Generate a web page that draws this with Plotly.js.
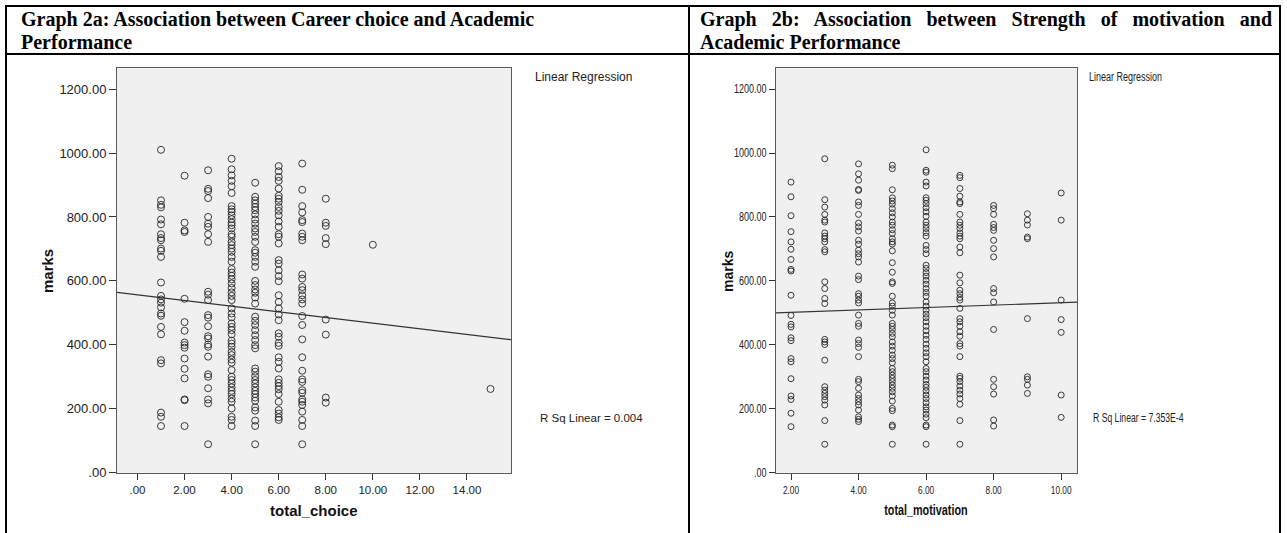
<!DOCTYPE html>
<html>
<head>
<meta charset="utf-8">
<script src="https://cdn.plot.ly/plotly-3.0.1.min.js"></script>
<style>
html,body{margin:0;padding:0;background:#fff;width:1287px;height:533px;overflow:hidden;}
#chart{position:absolute;left:0;top:0;width:1287px;height:533px;}
.rule{position:absolute;background:#000;}
.head{position:absolute;font-family:"Liberation Serif","Times New Roman",serif;font-weight:bold;font-size:20px;line-height:23px;color:#000;}
</style>
</head>
<body>
<div id="chart"></div>
<div class="rule" style="left:5px;top:5px;width:1276px;height:2px"></div>
<div class="rule" style="left:5px;top:5px;width:2px;height:528px"></div>
<div class="rule" style="left:688px;top:5px;width:2px;height:528px"></div>
<div class="rule" style="left:1279px;top:5px;width:2px;height:528px"></div>
<div class="rule" style="left:5px;top:53px;width:1276px;height:2px"></div>
<div class="head" style="left:21px;top:8px;width:660px;">Graph 2a: Association between Career choice and Academic<br>Performance</div>
<div class="head" style="left:700px;top:8px;width:572px;text-align:justify;">Graph 2b: Association between Strength of motivation and Academic Performance</div>
<script>
// ---------- Graph 2a data: marks grouped by total_choice ----------
const choiceValues = [1, 2, 3, 4, 5, 6, 7, 8, 10, 15];
const marksChoice1 = [1010, 852, 838, 830, 792, 777, 746, 734, 727, 701, 694, 675, 595, 553, 542, 532, 517, 498, 491, 456, 433, 352, 342, 188, 175, 146];
const marksChoice2 = [929, 782, 758, 753, 544, 471, 444, 407, 399, 391, 357, 325, 295, 229, 227, 146];
const marksChoice3 = [946, 888, 881, 859, 800, 779, 769, 746, 722, 566, 557, 540, 493, 485, 458, 427, 420, 401, 394, 363, 308, 300, 264, 229, 217, 89];
const marksChoice4 = [982, 949, 930, 913, 896, 875, 834, 824, 816, 805, 793, 782, 774, 764, 746, 738, 722, 712, 701, 691, 675, 660, 637, 626, 616, 605, 592, 578, 564, 553, 540, 514, 498, 486, 467, 456, 446, 433, 413, 404, 394, 378, 368, 354, 344, 321, 300, 290, 279, 267, 256, 246, 232, 222, 201, 175, 165, 146];
const marksChoice5 = [907, 863, 852, 842, 831, 821, 808, 792, 779, 764, 753, 738, 722, 696, 688, 675, 660, 644, 600, 587, 573, 563, 548, 529, 488, 475, 462, 446, 430, 415, 399, 389, 326, 316, 302, 290, 279, 267, 256, 246, 235, 225, 204, 194, 163, 146, 89];
const marksChoice6 = [959, 943, 925, 913, 889, 866, 857, 847, 831, 819, 805, 786, 769, 746, 738, 717, 665, 654, 633, 615, 599, 555, 534, 514, 495, 477, 436, 425, 406, 397, 361, 347, 326, 292, 281, 271, 261, 246, 222, 196, 185, 173, 165];
const marksChoice7 = [967, 885, 834, 814, 790, 784, 748, 738, 727, 620, 607, 581, 571, 555, 542, 529, 490, 462, 417, 361, 319, 292, 284, 258, 250, 229, 222, 212, 191, 165, 146, 89];
const marksChoice8 = [857, 782, 772, 734, 715, 479, 432, 235, 219];
const marksChoice10 = [713];
const marksChoice15 = [262];
const marksByChoice = [marksChoice1, marksChoice2, marksChoice3, marksChoice4, marksChoice5, marksChoice6, marksChoice7, marksChoice8, marksChoice10, marksChoice15];
const fitChoice = [556.3, -8.84];          // intercept, slope of the fitted line
const rSqChoice = '0.004';

// ---------- Graph 2b data: marks grouped by total_motivation ----------
const motivationValues = [2, 3, 4, 5, 6, 7, 8, 9, 10];
const marksMot2 = [909, 863, 804, 754, 722, 699, 667, 636, 631, 555, 492, 464, 456, 422, 413, 357, 347, 294, 240, 229, 186, 144];
const marksMot3 = [982, 854, 831, 808, 790, 784, 750, 740, 732, 722, 698, 691, 597, 576, 545, 529, 417, 409, 401, 352, 269, 258, 248, 238, 227, 212, 163, 89];
const marksMot4 = [966, 935, 915, 886, 883, 847, 836, 808, 781, 769, 756, 727, 715, 696, 685, 675, 659, 615, 604, 560, 552, 540, 531, 493, 467, 458, 415, 404, 392, 363, 292, 285, 264, 243, 232, 222, 212, 196, 175, 167, 160];
const marksMot5 = [962, 951, 885, 860, 850, 840, 826, 813, 800, 784, 774, 760, 748, 732, 722, 715, 694, 657, 627, 597, 592, 552, 531, 521, 508, 493, 467, 458, 448, 436, 425, 409, 396, 383, 368, 357, 344, 326, 316, 305, 295, 285, 274, 264, 253, 240, 224, 201, 194, 149, 144, 89];
const marksMot6 = [1010, 946, 940, 909, 897, 860, 852, 842, 829, 816, 802, 784, 774, 764, 751, 740, 711, 698, 685, 649, 639, 626, 615, 602, 590, 576, 564, 552, 534, 521, 508, 496, 485, 472, 458, 444, 430, 417, 402, 389, 375, 363, 347, 326, 316, 302, 290, 276, 267, 256, 243, 232, 219, 206, 196, 183, 172, 149, 144, 89];
const marksMot7 = [930, 923, 889, 865, 847, 842, 808, 784, 774, 764, 750, 740, 732, 706, 688, 618, 594, 571, 560, 548, 540, 514, 482, 472, 458, 441, 427, 404, 396, 363, 302, 295, 285, 271, 258, 246, 232, 214, 163, 89];
const marksMot8 = [836, 826, 808, 777, 767, 758, 727, 701, 675, 576, 563, 534, 448, 292, 269, 246, 165, 146];
const marksMot9 = [810, 790, 775, 737, 732, 482, 300, 292, 274, 248];
const marksMot10 = [875, 790, 540, 479, 439, 243, 173];
const marksByMotivation = [marksMot2, marksMot3, marksMot4, marksMot5, marksMot6, marksMot7, marksMot8, marksMot9, marksMot10];
const fitMotivation = [494.2, 3.75];       // intercept, slope of the fitted line
const rSqMotivation = '7.353E-4';

// ---------- tick labels ----------
const choiceTicks = [0, 2, 4, 6, 8, 10, 12, 14];
const choiceTickText = ['.00', '2.00', '4.00', '6.00', '8.00', '10.00', '12.00', '14.00'];
const motivationTicks = [2, 4, 6, 8, 10];
const motivationTickText = ['2.00', '4.00', '6.00', '8.00', '10.00'];
const marksTicks = [0, 200, 400, 600, 800, 1000, 1200];
const marksTickText = ['.00', '200.00', '400.00', '600.00', '800.00', '1000.00', '1200.00'];

// ---------- build ----------
function flatten(xs, groups) {
  const x = [], y = [];
  groups.forEach((g, i) => g.forEach(v => { x.push(xs[i]); y.push(v); }));
  return {x, y};
}
const W = 1287, H = 533;
const px = v => v / W;
const py = v => (H - v) / H;

const rangeA = [-0.87, 15.87];
const rangeB = [1.556, 10.477];
const rangeY = [0, 1265];

const fontA = 'Liberation Sans, Arial, sans-serif';
const fontB = 'Liberation Sans Narrow, Arial Narrow, Liberation Sans, Arial, sans-serif';
const squeezeB = 0.72;   // graph 2b text is horizontally condensed

const ptsA = flatten(choiceValues, marksByChoice);
const ptsB = flatten(motivationValues, marksByMotivation);

const traces = [
  {type: 'scatter', mode: 'markers', x: ptsA.x, y: ptsA.y, xaxis: 'x', yaxis: 'y',
   marker: {symbol: 'circle-open', size: 7, color: 'rgba(40,40,40,0.9)', line: {width: 1}}, hoverinfo: 'x+y'},
  {type: 'scatter', mode: 'lines', x: rangeA, y: rangeA.map(v => fitChoice[0] + fitChoice[1] * v),
   xaxis: 'x', yaxis: 'y', line: {color: '#333', width: 1.2}, hoverinfo: 'skip'},
  {type: 'scatter', mode: 'markers', x: ptsB.x, y: ptsB.y, xaxis: 'x2', yaxis: 'y2',
   marker: {symbol: 'circle-open', size: 6, color: 'rgba(40,40,40,0.9)', line: {width: 1}}, hoverinfo: 'x+y'},
  {type: 'scatter', mode: 'lines', x: rangeB, y: rangeB.map(v => fitMotivation[0] + fitMotivation[1] * v),
   xaxis: 'x2', yaxis: 'y2', line: {color: '#333', width: 1.2}, hoverinfo: 'skip'}
];

const axisCommon = {
  showgrid: false, zeroline: false, showline: true, mirror: true,
  linecolor: '#5a5a5a', linewidth: 1, ticks: 'outside', tickcolor: '#333',
  tickwidth: 1, fixedrange: true
};

const layout = {
  width: W, height: H, margin: {l: 0, r: 0, t: 0, b: 0},
  paper_bgcolor: '#ffffff', plot_bgcolor: '#f0f0f0', showlegend: false,
  xaxis: Object.assign({}, axisCommon, {domain: [px(117), px(511)], range: rangeA, anchor: 'y',
    tickmode: 'array', tickvals: choiceTicks, ticktext: choiceTickText, ticklen: 6,
    tickfont: {family: fontA, size: 11.5, color: '#222'}}),
  yaxis: Object.assign({}, axisCommon, {domain: [py(472.7), py(68.3)], range: rangeY, anchor: 'x',
    tickmode: 'array', tickvals: marksTicks, ticktext: marksTickText, ticklen: 7,
    tickfont: {family: fontA, size: 13, color: '#222'}}),
  xaxis2: Object.assign({}, axisCommon, {domain: [px(776), px(1077.3)], range: rangeB, anchor: 'y2',
    tickmode: 'array', tickvals: motivationTicks, ticktext: motivationTickText, ticklen: 6,
    tickfont: {family: fontB, size: 11.5, color: '#222'}}),
  yaxis2: Object.assign({}, axisCommon, {domain: [py(472.7), py(68.3)], range: rangeY, anchor: 'x2',
    tickmode: 'array', tickvals: marksTicks, ticktext: marksTickText, ticklen: 6,
    tickfont: {family: fontB, size: 12.5, color: '#222'}}),
  annotations: [
    {xref: 'paper', yref: 'paper', x: px(533), y: py(77), xanchor: 'left', yanchor: 'middle', showarrow: false,
     text: 'Linear Regression', font: {family: fontA, size: 12, color: '#222'}},
    {xref: 'paper', yref: 'paper', x: px(538), y: py(417.5), xanchor: 'left', yanchor: 'middle', showarrow: false,
     text: 'R Sq Linear = ' + rSqChoice, font: {family: fontA, size: 11.5, color: '#222'}},
    {xref: 'paper', yref: 'paper', x: px(314), y: py(510), xanchor: 'center', yanchor: 'middle', showarrow: false,
     text: 'total_choice', font: {family: fontA, size: 15, weight: 'bold', color: '#111'}},
    {xref: 'paper', yref: 'paper', x: px(47), y: py(271), xanchor: 'center', yanchor: 'middle', showarrow: false,
     textangle: -90, text: 'marks', font: {family: fontA, size: 15, weight: 'bold', color: '#111'}},
    {xref: 'paper', yref: 'paper', x: px(1087), y: py(77), xanchor: 'left', yanchor: 'middle', showarrow: false,
     text: 'Linear Regression', font: {family: fontB, size: 12.5, color: '#222'}},
    {xref: 'paper', yref: 'paper', x: px(1091), y: py(418), xanchor: 'left', yanchor: 'middle', showarrow: false,
     text: 'R Sq Linear = ' + rSqMotivation, font: {family: fontB, size: 12, color: '#222'}},
    {xref: 'paper', yref: 'paper', x: px(926), y: py(509.5), xanchor: 'center', yanchor: 'middle', showarrow: false,
     text: 'total_motivation', font: {family: fontB, size: 15, weight: 'bold', color: '#111'}},
    {xref: 'paper', yref: 'paper', x: px(728), y: py(272), xanchor: 'center', yanchor: 'middle', showarrow: false,
     textangle: -90, text: 'marks', font: {family: fontB, size: 14, weight: 'bold', color: '#111'}}
  ]
};

// condense the horizontal run of graph 2b texts; keepLeft keeps the left edge where it was
function condense(nodes, factor, keepLeft) {
  nodes.forEach(t => {
    const len = t.getComputedTextLength();
    if (len <= 0) return;
    const before = t.getBBox().x;
    t.setAttribute('textLength', (len * factor).toFixed(2));
    t.setAttribute('lengthAdjust', 'spacingAndGlyphs');
    if (keepLeft) {
      const after = t.getBBox().x;
      const x0 = parseFloat(t.getAttribute('x') || '0');
      t.setAttribute('x', (x0 + before - after).toFixed(2));
    }
  });
}

Plotly.newPlot('chart', traces, layout, {displayModeBar: false, staticPlot: true}).then(gd => {
  const sel = q => Array.from(gd.querySelectorAll(q));
  const annText = i => sel('.annotation[data-index="' + i + '"] text.annotation-text');
  condense(sel('.x2tick text'), squeezeB, false);
  condense(sel('.y2tick text'), squeezeB, false);
  condense(annText(4), squeezeB, true);
  condense(annText(5), squeezeB, true);
  condense(annText(6), squeezeB, false);
});
</script>
</body>
</html>
